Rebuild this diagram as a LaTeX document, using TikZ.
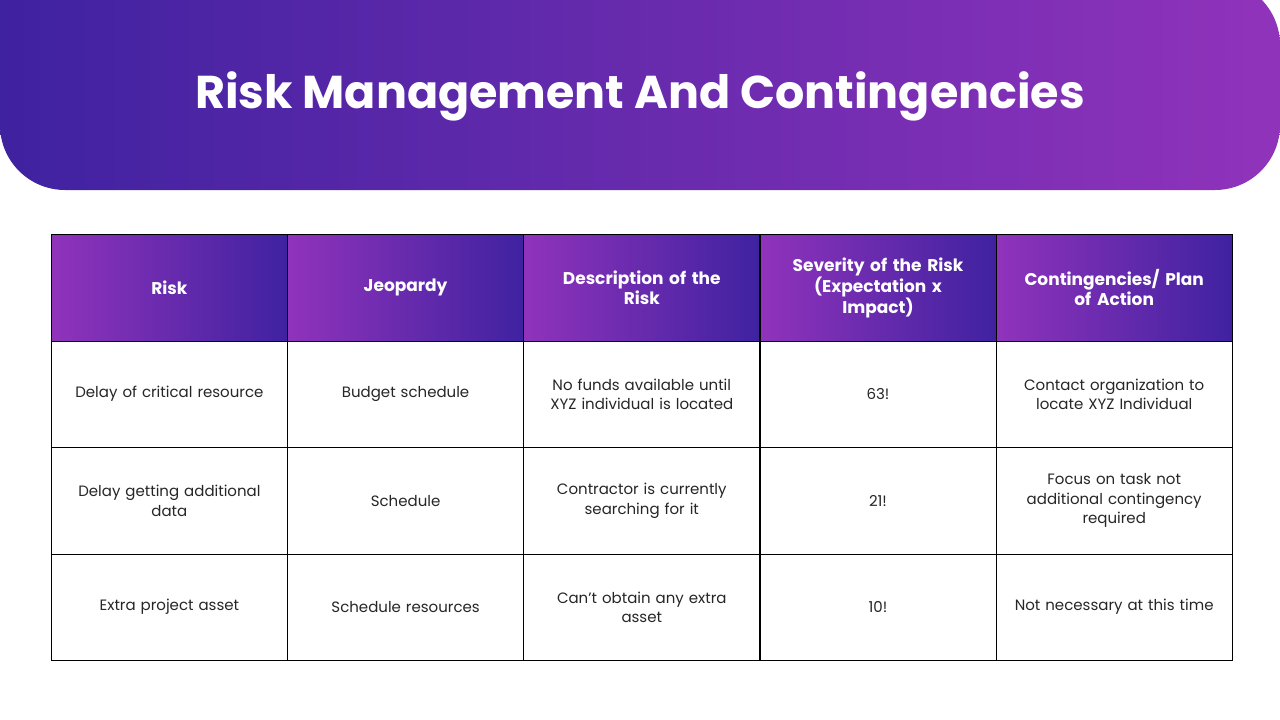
\documentclass[tikz,border=0pt]{standalone}
\usepackage{fontspec}
\setmainfont{Poppins}
\definecolor{dpur}{HTML}{3F22A0}
\definecolor{lpur}{HTML}{9033BB}
\definecolor{txt}{HTML}{262626}
\begin{document}
\begin{tikzpicture}[x=1pt,y=-1pt,
  hcell/.style={draw=black,line width=0.8pt,minimum width=236pt,minimum height=106.5pt,anchor=north west,left color=lpur,right color=dpur,text=white,font=\bfseries\fontsize{17}{20}\selectfont,text width=200pt,align=center,inner sep=0pt},
  bcell/.style={draw=black,line width=0.8pt,minimum width=236pt,minimum height=106.5pt,anchor=north west,text=txt,font=\fontsize{15}{19.5}\selectfont,text width=200pt,align=center,inner sep=0pt}]
\useasboundingbox (0,0) rectangle (1280,720);
\fill[white] (0,0) rectangle (1280,720);
\shade[left color=dpur,right color=lpur] (0,-20) [rounded corners=65pt] -- (0,190) -- (1280,190) -- (1280,-20) [sharp corners] -- cycle;
\node[text=white,font=\bfseries\fontsize{46}{50}\selectfont] (title) at (640,96) {Risk Management And Contingencies};
\foreach \i/\t in {0/Risk,1/Jeopardy,2/{Description of the\\Risk},3/{Severity of the Risk\\(Expectation x\\Impact)},4/{Contingencies/ Plan\\of Action}}{
  \node[hcell] (h\i) at ({51+236.2*\i},234) {\t};
}
\foreach \r/\a/\b/\c/\d/\e in {0/{Delay of critical resource}/{Budget schedule}/{No funds available until\\XYZ individual is located}/63!/{Contact organization to\\locate XYZ Individual},
 1/{Delay getting additional\\data}/{Schedule}/{Contractor is currently\\searching for it}/21!/{Focus on task not\\additional contingency\\required},
 2/{Extra project asset}/{Schedule resources}/{Can't obtain any extra\\asset}/10!/{Not necessary at this time}}{
  \node[bcell] (c\r0) at (51,{340.5+106.5*\r}) {\a};
  \node[bcell] (c\r1) at (287.2,{340.5+106.5*\r}) {\b};
  \node[bcell] (c\r2) at (523.4,{340.5+106.5*\r}) {\c};
  \node[bcell] (c\r3) at (759.6,{340.5+106.5*\r}) {\d};
  \node[bcell] (c\r4) at (995.8,{340.5+106.5*\r}) {\e};
}
\end{tikzpicture}
\end{document}
